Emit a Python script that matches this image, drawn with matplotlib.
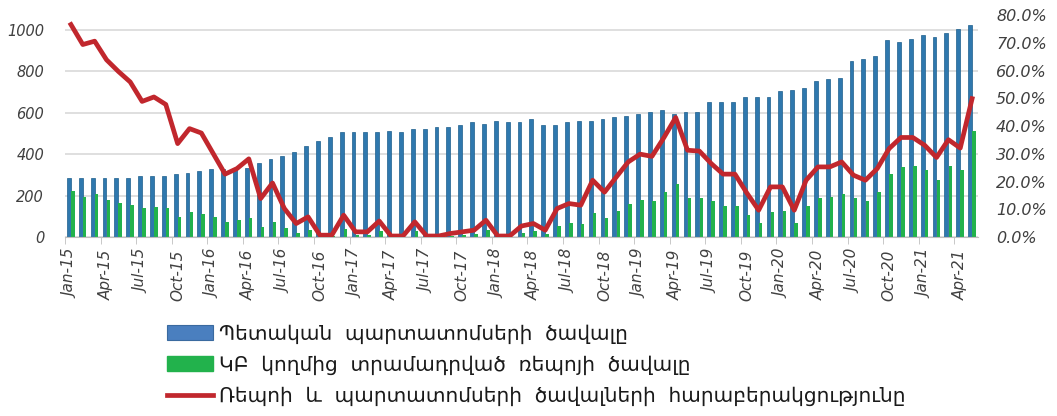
import numpy as np
import matplotlib
matplotlib.use('Agg')
import matplotlib.pyplot as plt
from matplotlib.patches import Patch
from matplotlib.lines import Line2D

plt.rcParams['font.family'] = ['DejaVu Sans']

# ---- data (Jan-15 ... May-21, monthly) ----
bonds = [286, 286, 286, 286, 286, 286, 295, 295, 295, 303, 311, 319, 327, 327, 332,
         335, 359, 375, 393, 409, 441, 465, 483, 506, 506, 506, 506, 514, 506, 523,
         523, 531, 531, 539, 555, 547, 563, 555, 555, 571, 539, 539, 555, 563, 563,
         571, 579, 587, 595, 603, 612, 595, 603, 603, 654, 654, 654, 678, 678, 678,
         704, 712, 720, 754, 762, 770, 852, 860, 876, 950, 942, 958, 976, 967, 984,
         1006, 1024]
repo = [222, 195, 206, 179, 163, 155, 139, 147, 139, 98, 122, 114, 98, 74, 82,
        94, 50, 74, 42, 18, 34, 4, 4, 40, 10, 10, 28, 2, 2, 28,
        2, 2, 6, 10, 14, 32, 2, 2, 22, 28, 13, 55, 67, 65, 115,
        92, 126, 159, 178, 175, 219, 256, 189, 187, 173, 148, 148, 108, 66, 123,
        127, 69, 148, 191, 193, 209, 190, 176, 216, 303, 338, 344, 323, 278, 345,
        323, 511]
ratio = [76.6, 69.4, 70.6, 63.9, 59.7, 55.9, 48.9, 50.5, 47.8, 33.7, 39.1, 37.5, 30.1, 22.7, 24.7,
         28.2, 13.9, 19.5, 10.3, 4.9, 7.3, 0.7, 0.7, 7.9, 1.9, 1.9, 5.8, 0.4, 0.4, 5.5,
         0.4, 0.4, 1.3, 1.9, 2.5, 6.1, 0.4, 0.4, 4.0, 4.9, 2.5, 10.3, 12.1, 11.5, 20.5,
         16.2, 21.7, 27.1, 29.9, 29.1, 35.8, 43.1, 31.3, 31.0, 26.5, 22.7, 22.7, 15.9, 9.7, 18.1,
         18.1, 9.7, 20.5, 25.3, 25.3, 27.1, 22.3, 20.5, 24.7, 31.9, 35.9, 35.9, 33.1, 28.7, 35.1,
         32.1, 49.9]
tick_labels = ['Jan-15', 'Apr-15', 'Jul-15', 'Oct-15', 'Jan-16', 'Apr-16', 'Jul-16', 'Oct-16',
               'Jan-17', 'Apr-17', 'Jul-17', 'Oct-17', 'Jan-18', 'Apr-18', 'Jul-18', 'Oct-18',
               'Jan-19', 'Apr-19', 'Jul-19', 'Oct-19', 'Jan-20', 'Apr-20', 'Jul-20', 'Oct-20',
               'Jan-21', 'Apr-21']
legend_labels = ['Պետական  պարտատոմսերի  ծավալը',
                 'ԿԲ  կողմից  տրամադրված  ռեպոյի  ծավալը',
                 'Ռեպոի  և  պարտատոմսերի  ծավալների  հարաբերակցությունը']

BLUE = '#2F78AE'
GREEN = '#22B24C'
RED = '#C1272D'
TXT = '#404040'

x = np.arange(len(bonds))
ratio_frac = np.array(ratio) / 100

fig = plt.figure(figsize=(10.57, 4.16), dpi=100)
ax = fig.add_axes([0.0615, 0.430, 0.8638, 0.5337])

ax.bar(x - 0.17, bonds, width=0.33, color=BLUE, edgecolor='#1D5E8C', linewidth=0.5, zorder=2)
ax.bar(x + 0.16, repo, width=0.30, color=GREEN, linewidth=0, zorder=2)
ax.set_ylim(0, 1072)
ax.set_xlim(-0.5, len(bonds) - 0.5)
ax.set_yticks(range(0, 1001, 200))
ax.grid(axis='y', color='#D9D9D9', linewidth=1.2, zorder=0)
ax.set_axisbelow(True)

# category labels every 3 months, tick marks between categories
ax.set_xticks(x[::3])
ax.set_xticklabels(tick_labels, rotation=90, fontstyle='italic', fontsize=11, color=TXT)
ax.set_xticks(np.arange(-0.5, len(bonds), 3), minor=True)
ax.tick_params(axis='x', which='major', length=0, pad=9)
ax.tick_params(axis='x', which='minor', length=5, color='#BFBFBF')
ax.tick_params(axis='y', length=0, pad=15, labelsize=10.5, labelcolor=TXT)
for lbl in ax.get_yticklabels():
    lbl.set_fontstyle('italic')
for s in ['top', 'left', 'right']:
    ax.spines[s].set_visible(False)
ax.spines['bottom'].set_color('#BFBFBF')

ax2 = ax.twinx()
ax2.plot(x, ratio_frac, color=RED, linewidth=3.4, solid_joinstyle='round', zorder=3)
ax2.set_ylim(0, 0.8)
ax2.set_yticks(np.arange(0, 0.81, 0.1))
ax2.set_yticklabels([f'{v:.1f}%' for v in np.arange(0, 81, 10)], fontstyle='italic',
                    fontsize=11.5, color=TXT)
ax2.tick_params(axis='y', length=0, pad=13)
for s in ['top', 'left', 'right', 'bottom']:
    ax2.spines[s].set_visible(False)

handles = [Patch(facecolor='#4A7FBF', edgecolor='#3A6A9F', linewidth=0.8),
           Patch(facecolor=GREEN, edgecolor=GREEN),
           Line2D([0], [0], color=RED, linewidth=3.4)]
fig.legend(handles, legend_labels, loc='upper left', bbox_to_anchor=(0.148, 0.245),
           frameon=False, fontsize=14.5, handlelength=2.3, handleheight=0.75,
           handletextpad=0.3, labelspacing=0.58, borderpad=0, labelcolor='#1A1A1A')

fig.savefig('out.png', dpi=100)
